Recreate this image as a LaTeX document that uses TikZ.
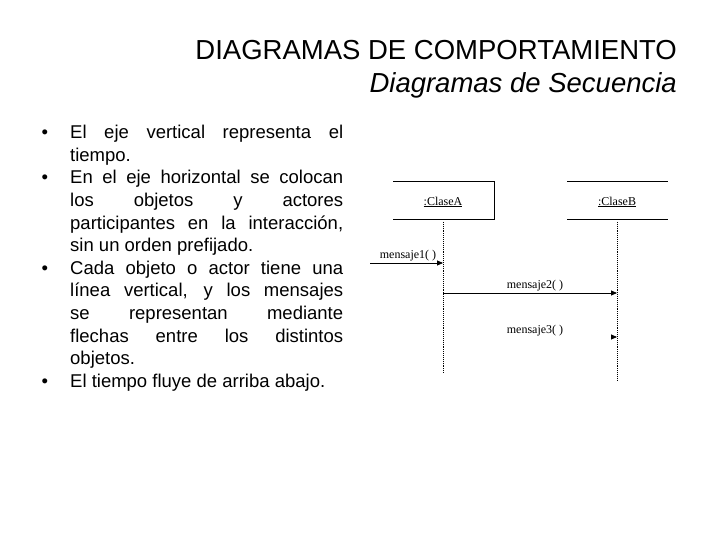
\documentclass[tikz,border=0pt]{standalone}
\usepackage{fontspec}
\setmainfont{Liberation Sans}
\newfontfamily\tms{Liberation Serif}
\usetikzlibrary{arrows.meta}
\begin{document}
\begin{tikzpicture}[x=1pt,y=-1pt,
  lbl/.style={font=\tms\fontsize{12}{13}\selectfont, inner sep=0pt},
  life/.style={densely dotted, line width=0.9pt},
  msg/.style={-{Triangle[length=6pt,width=5pt]}, line width=0.8pt}]
\useasboundingbox (0,0) rectangle (720,540);
\node[anchor=east, inner sep=0pt, font=\fontsize{27.5}{30}\selectfont] (t1) at (677,50) {DIAGRAMAS DE COMPORTAMIENTO};
\node[anchor=east, inner sep=0pt, font=\fontsize{27.5}{30}\selectfont\itshape] (t2) at (677,85) {Diagramas de Secuencia};
\node[anchor=north west, inner sep=0pt, text width=273pt, font=\fontsize{18.5}{22.6}\selectfont, align=justify] (body) at (70,125) {\hyphenpenalty=10000 \parskip=0pt
\makebox[0pt][r]{•\hspace{22pt}}El eje vertical representa el\linebreak tiempo.\par
\makebox[0pt][r]{•\hspace{22pt}}En el eje horizontal se colocan\linebreak los objetos y actores\linebreak participantes en la interacción,\linebreak sin un orden prefijado.\par
\makebox[0pt][r]{•\hspace{22pt}}Cada objeto o actor tiene una\linebreak línea vertical, y los mensajes\linebreak se representan mediante\linebreak flechas entre los distintos\linebreak objetos.\par
\makebox[0pt][r]{•\hspace{22pt}}El tiempo fluye de arriba abajo.};
% boxes
\coordinate (a1) at (393,181); \coordinate (a2) at (494,181);
\coordinate (a3) at (494,219); \coordinate (a4) at (393,219);
\draw[line width=0.8pt] (a1) -- (a2) -- (a3) -- (a4);
\node[lbl] (ca) at (443,202) {\underline{:ClaseA}};
\coordinate (b1) at (567,181); \coordinate (b2) at (668,181);
\coordinate (b3) at (567,219); \coordinate (b4) at (668,219);
\draw[line width=0.8pt] (b1) -- (b2) (b3) -- (b4);
\node[lbl] (cb) at (617,202) {\underline{:ClaseB}};
% lifelines
\coordinate (la) at (443,222); \coordinate (lae) at (443,373);
\coordinate (lb) at (617,222); \coordinate (lbe) at (617,380);
\draw[life] (la) -- (lae);
\draw[life] (lb) -- (lbe);
% messages
\coordinate (m1s) at (370,263); \coordinate (m1e) at (443,263);
\draw[msg] (m1s) -- (m1e);
\node[lbl] (l1) at (408,256) {mensaje1( )};
\coordinate (m2s) at (443,293); \coordinate (m2e) at (617,293);
\draw[msg] (m2s) -- (m2e);
\node[lbl] (l2) at (535,286) {mensaje2( )};
\coordinate (m3s) at (611,337); \coordinate (m3e) at (617,337);
\draw[msg] (m3s) -- (m3e);
\node[lbl] (l3) at (535,331) {mensaje3( )};
\end{tikzpicture}
\end{document}
